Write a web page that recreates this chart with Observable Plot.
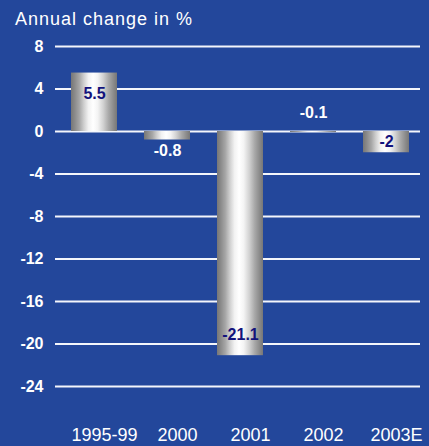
<!DOCTYPE html>
<html><head><meta charset="utf-8">
<script src="https://cdn.jsdelivr.net/npm/d3@7"></script>
<script src="https://cdn.jsdelivr.net/npm/@observablehq/plot@0.6"></script>
<style>
html,body{margin:0;padding:0;background:#23479b;}
body{width:429px;height:446px;overflow:hidden;font-family:"Liberation Sans",Arial,sans-serif;}
#title{height:25px;padding-top:9px;padding-left:15px;color:#fff;font-size:18px;line-height:20px;letter-spacing:1px;white-space:nowrap;}
#chart svg{display:block;}
</style></head><body>
<div id="title">Annual change in %</div>
<div id="chart"></div>
<script>
const categories = ["1995-99", "2000", "2001", "2002", "2003E"];
const values = [5.5, -0.8, -21.1, -0.1, -2];
const labels = ["5.5", "-0.8", "-21.1", "-0.1", "-2"];
const yTicks = [8, 4, 0, -4, -8, -12, -16, -20, -24];

const W = 429, H = 412, mTop = 12, mBottom = 60, mLeft = 55, mRight = 9;
const pxPerUnit = (H - mBottom - mTop) / (8 - (-24));

const data = categories.map((c, i) => {
  const v = values[i];
  const inside = Math.abs(v) >= 1.5;
  let ly = v, dy;
  if (inside) {
    dy = Math.sign(v) * Math.min(21, Math.abs(v) * pxPerUnit / 2);
  } else if (Math.abs(v) < 0.5) {
    ly = 0; dy = -19;
  } else {
    dy = 11;
  }
  return {cat: c, value: v, label: labels[i], ly, dy, inside};
});
const insideData = data.filter(d => d.inside), outsideData = data.filter(d => !d.inside);

const plot = Plot.plot({
  width: W, height: H,
  marginTop: mTop, marginBottom: mBottom, marginLeft: mLeft, marginRight: mRight,
  style: {background: "transparent", fontFamily: "'Liberation Sans', Arial, sans-serif", color: "white", overflow: "visible"},
  x: {domain: categories, range: [57.5, 422.5], paddingInner: 0.37, paddingOuter: 0.185, label: null},
  y: {domain: [-24, 8], label: null},
  marks: [
    Plot.ruleY(yTicks, {stroke: "#f4f6fb", strokeWidth: 2}),
    Plot.barY(data, {x: "cat", y: "value", fill: "url(#metal)"}),
    Plot.text(insideData, {x: "cat", y: "ly", text: "label", fill: "#12127c", fontWeight: "bold", fontSize: 16}),
    Plot.text(outsideData, {x: "cat", y: "ly", text: "label", fill: "white", fontWeight: "bold", fontSize: 16}),
    Plot.axisY({ticks: yTicks, tickSize: 0, tickPadding: 12, tickFormat: d => String(d), fill: "white", fontWeight: "bold", fontSize: 16, label: null}),
    Plot.axisX({tickSize: 0, tickPadding: 42, fill: "white", fontSize: 18, dx: 10, label: null})
  ]
});

const svg = d3.select(plot);
const textGroups = svg.selectAll("g[aria-label='text']").nodes();
[insideData, outsideData].forEach((arr, gi) => {
  d3.select(textGroups[gi]).selectAll("text").each(function(_, i) {
    const t = d3.select(this);
    const tr = t.attr("transform") || "";
    const m = /translate\(([^,]+),([^)]+)\)/.exec(tr);
    if (m) t.attr("transform", `translate(${m[1]},${+m[2] + arr[i].dy})`);
    else t.attr("y", +t.attr("y") + arr[i].dy);
  });
});

const defs = svg.insert("defs", ":first-child");
const g = defs.append("linearGradient").attr("id", "metal").attr("x1", "0%").attr("x2", "100%").attr("y1", "0%").attr("y2", "0%");
const stops = [[0, "#777777"], [0.08, "#8a8a8a"], [0.18, "#a6a6a6"], [0.28, "#cfcfcf"], [0.38, "#f2f2f2"], [0.48, "#ffffff"], [0.58, "#f4f4f4"], [0.7, "#d2d2d2"], [0.82, "#a8a8a8"], [0.92, "#8c8c8c"], [1, "#777777"]];
stops.forEach(([o, c]) => g.append("stop").attr("offset", o).attr("stop-color", c));

document.getElementById("chart").appendChild(plot);
</script>
</body></html>
